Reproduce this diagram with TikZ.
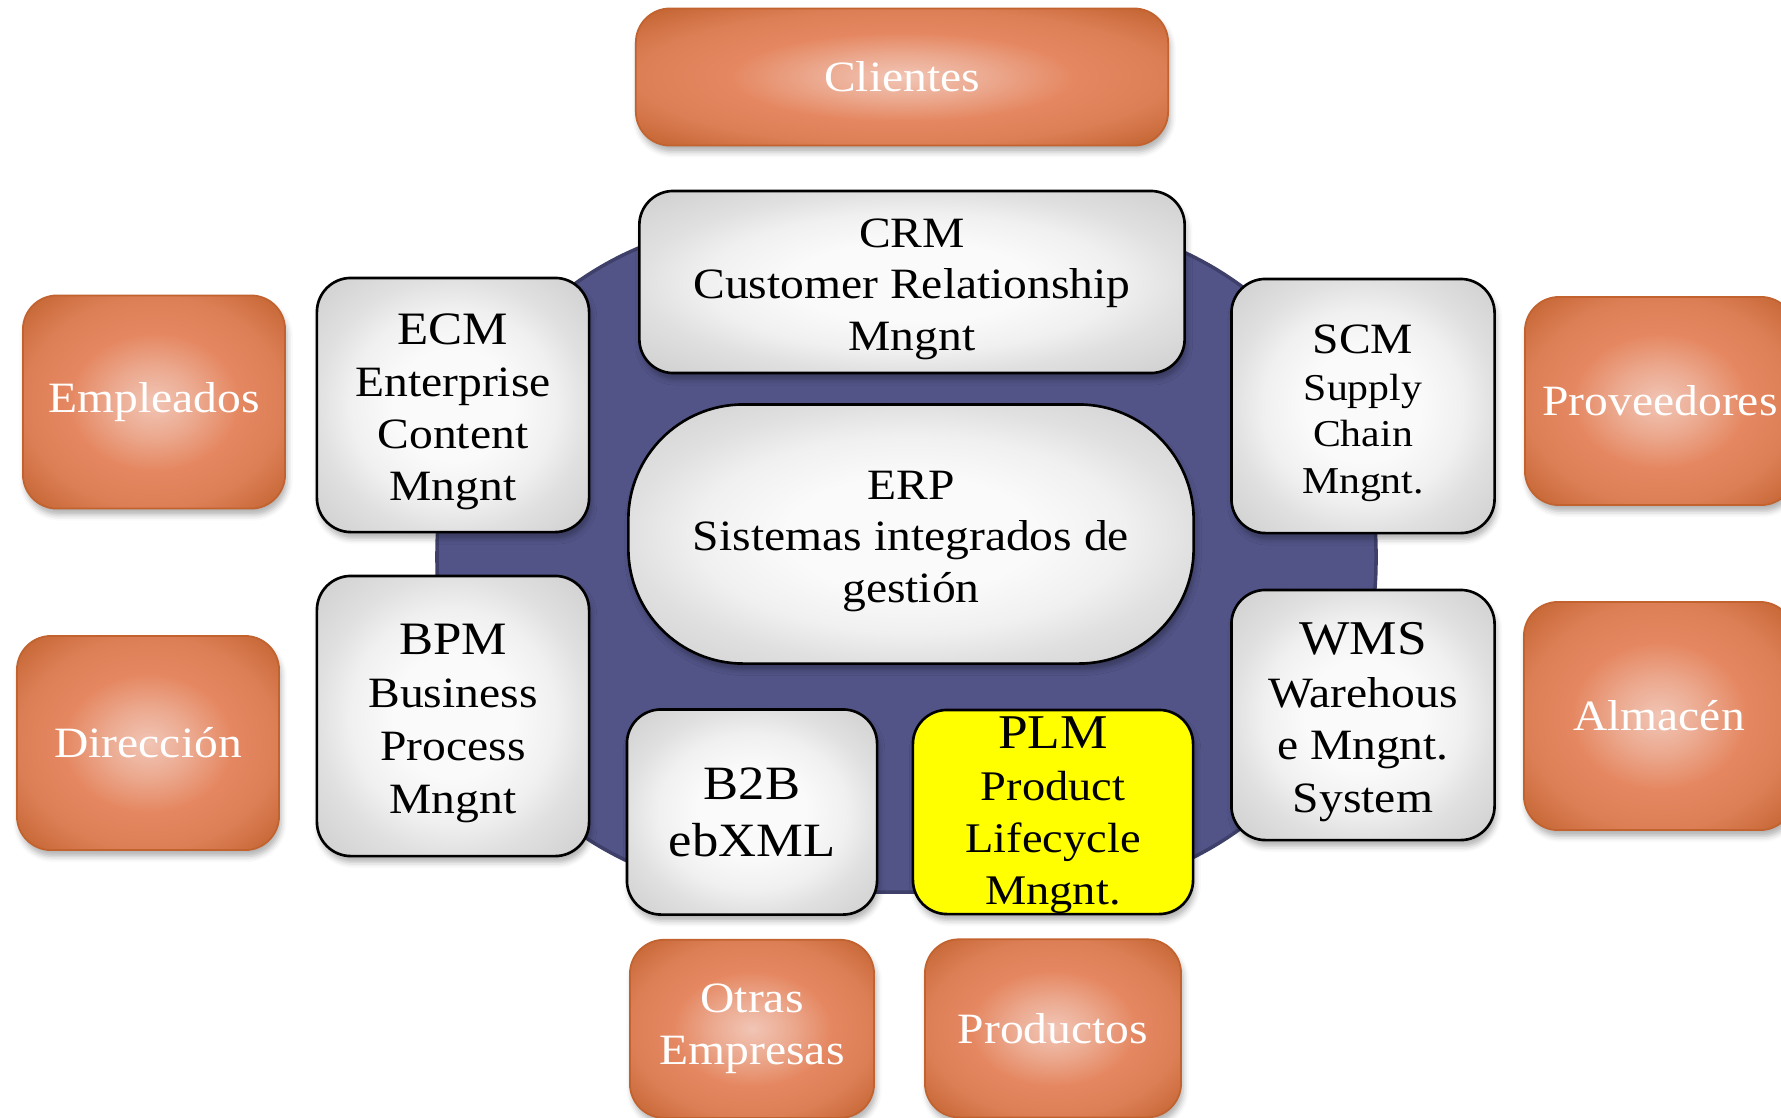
\documentclass[tikz,border=0pt]{standalone}
\usepackage{fontspec}
\setmainfont{Liberation Serif}[FakeStretch=1.1]
\usetikzlibrary{positioning, shadows.blur}
\definecolor{HubBlue}     {RGB}{ 82,  84, 136}
\definecolor{HubEdge}     {RGB}{ 62,  64, 106}
\definecolor{GreyLight}   {RGB}{250, 250, 250}
\definecolor{GreyMid}     {RGB}{240, 240, 240}
\definecolor{GreyEdge}    {RGB}{224, 224, 224}
\definecolor{GreyDark}    {RGB}{207, 207, 207}
\definecolor{OrangeLight} {RGB}{241, 197, 181}
\definecolor{OrangeMid}   {RGB}{229, 136,  98}
\definecolor{OrangeDark}  {RGB}{193,  98,  47}
\definecolor{PLMYellow}   {RGB}{255, 255,   0}
\pgfdeclareradialshading{greyglow}{\pgfpoint{0bp}{0bp}}{%
  color(0bp)=(GreyLight); color(11bp)=(GreyLight); color(19bp)=(GreyMid);
  color(25bp)=(GreyEdge); color(35bp)=(GreyDark); color(50bp)=(GreyDark)}
\pgfdeclareradialshading{orangeglow}{\pgfpoint{0bp}{0bp}}{%
  color(0bp)=(OrangeLight); color(8bp)=(OrangeLight!55!OrangeMid);
  color(16bp)=(OrangeMid); color(25bp)=(OrangeMid!75!OrangeDark);
  color(35bp)=(OrangeDark); color(50bp)=(OrangeDark)}
\newcommand{\BoxFont}{\fontsize{12.3}{14.6}\selectfont}
\newcommand{\HeadFont}{\fontsize{13.2}{14.8}\selectfont}
\newcommand{\BigHead}{\fontsize{13.8}{15}\selectfont}
\newcommand{\SmallFont}{\fontsize{10.8}{13.2}\selectfont}
% extra room above the first line, pushes the text block down a little
\newcommand{\Lower}[1][4.2pt]{\rule{0pt}{\dimexpr\fontcharht\font`H+#1\relax}}
\tikzset{
  % Common look of every box
  boxbase/.style={
    rectangle, rounded corners=0.34cm, align=center, inner sep=2pt,
    blur shadow={shadow xshift=0.6pt, shadow yshift=-1.8pt,
                 shadow blur radius=1.6pt, shadow opacity=30}
  },
  % Grey application box
  appbox/.style={
    boxbase, shading=greyglow, draw=black, line width=0.75pt,
    text=black, font=\BoxFont
  },
  % Highlighted application box
  hotbox/.style={
    boxbase, fill=PLMYellow, draw=black, line width=0.75pt,
    text=black, font=\BoxFont
  },
  % Orange stakeholder box
  partybox/.style={
    boxbase, shading=orangeglow, draw=OrangeDark, line width=0.5pt,
    text=white, font=\BoxFont, minimum width=2.62cm
  },
  % Central disc behind the applications
  hubdisc/.style={
    fill=HubBlue, draw=HubEdge, line width=1pt, rounded corners=3.3cm
  }
}

\begin{document}
\begin{tikzpicture}[x=0.01cm, y=-0.01cm]
  \useasboundingbox (0,0) rectangle (1781,1117);

  % ── Background disc ─────────────────────────────────────────────
  \draw[hubdisc] (437,222) rectangle (1376,892);

  % ── Core systems ────────────────────────────────────────────────
  \node[appbox, minimum width=5.45cm, minimum height=1.82cm] (crm)
        at (912,282) {\Lower CRM\\Customer Relationship\\Mngnt};
  \node[appbox, rounded corners=1.15cm, minimum width=5.65cm,
        minimum height=2.59cm] (erp)
        at (911,534) {\Lower ERP\\Sistemas integrados de\\gestión};
  \node[appbox, font=\fontsize{12.3}{14.8}\selectfont,
        minimum width=2.72cm, minimum height=2.54cm] (ecm)
        at (453,405) {{\HeadFont\Lower ECM}\\Enterprise\\Content\\Mngnt};
  \node[appbox, font=\fontsize{12.3}{15}\selectfont,
        minimum width=2.72cm, minimum height=2.8cm] (bpm)
        at (453,716) {{\HeadFont\Lower BPM}\\Business\\Process\\Mngnt};
  \node[appbox, font=\SmallFont, minimum width=2.63cm,
        minimum height=2.54cm] (scm)
        at (1363,406) {{\BoxFont\Lower SCM}\\Supply\\Chain\\Mngnt.};
  \node[appbox, font=\fontsize{12.3}{15}\selectfont,
        minimum width=2.63cm, minimum height=2.5cm] (wms)
        at (1363,715) {{\BigHead\Lower WMS}\\Warehous\\e Mngnt.\\System};
  \node[appbox, font=\fontsize{13.6}{16.2}\selectfont,
        minimum width=2.5cm, minimum height=2.05cm] (b2b)
        at (752,812) {B2B\\ebXML};
  \node[hotbox, font=\fontsize{12}{14.8}\selectfont, inner sep=0pt,
        minimum width=2.8cm, minimum height=2.04cm] (plm)
        at (1053,812) {{\BigHead\Lower[2pt]PLM}\\Product\\Lifecycle\\Mngnt.};

  % ── Stakeholders round the disc ─────────────────────────────────
  \node[partybox, minimum width=5.32cm, minimum height=1.37cm] (clientes)
        at (902,77) {Clientes};
  \node[partybox, minimum height=2.13cm] (empleados)
        at (154,402) {Empleados};
  \node[partybox, minimum height=2.14cm] (direccion)
        at (148,743) {Dirección};
  \node[partybox, minimum width=2.7cm, minimum height=2.08cm] (proveedores)
        at (1660,401) {Proveedores};
  \node[partybox, minimum width=2.7cm, minimum height=2.28cm] (almacen)
        at (1659,716) {Almacén};
  \node[partybox, minimum width=2.44cm, minimum height=1.78cm,
        below=0.23cm of b2b] (otras) {Otras\\Empresas};
  \node[partybox, minimum width=2.56cm, minimum height=1.78cm,
        below=0.23cm of plm] (productos) {Productos};

\end{tikzpicture}
\end{document}
